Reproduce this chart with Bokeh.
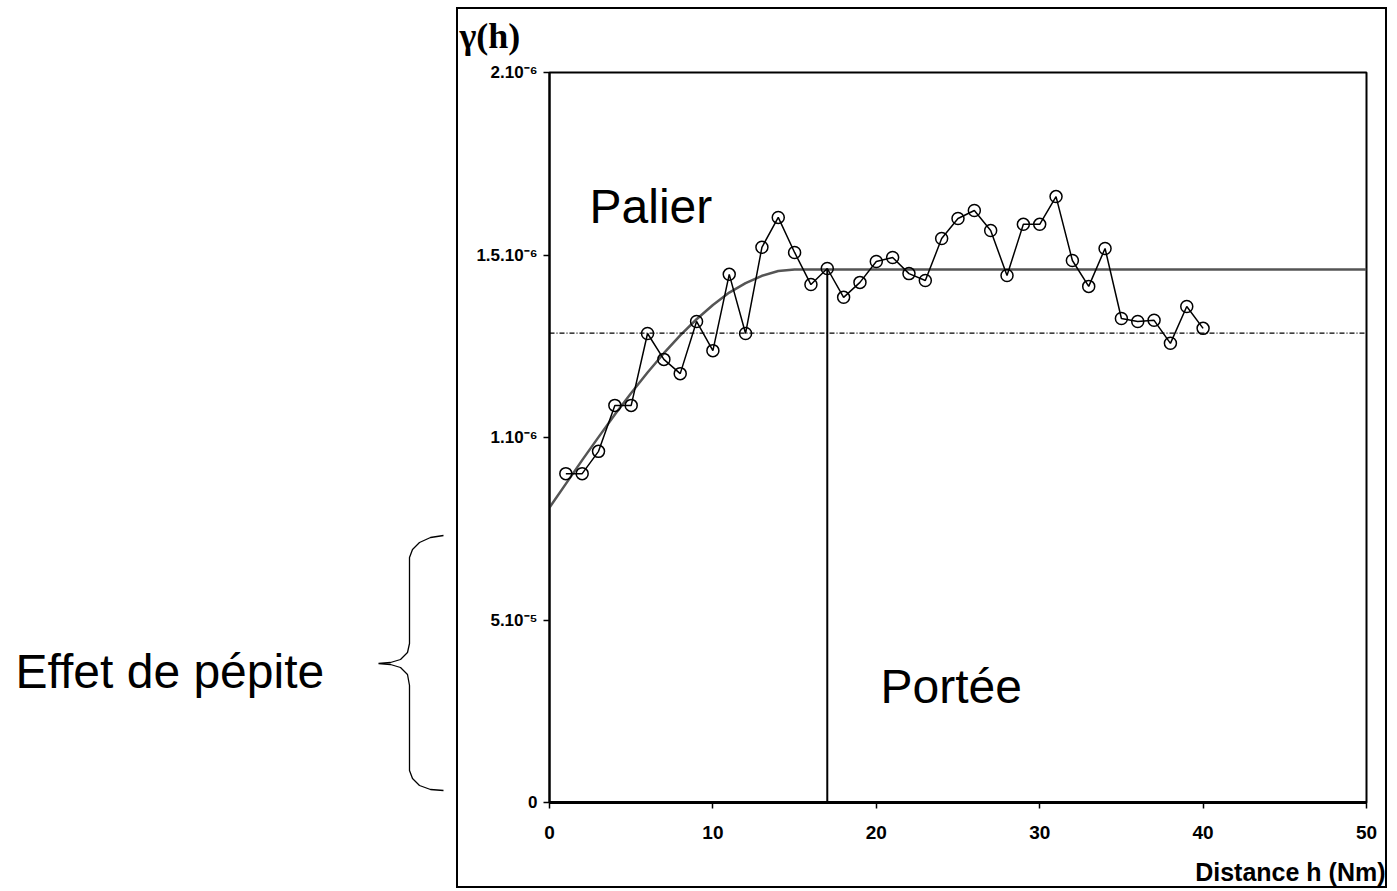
from bokeh.plotting import figure
from bokeh.layouts import row, column
from bokeh.models import Range1d, FixedTicker, Span
from bokeh.core.properties import value
from bokeh.embed import file_html
from bokeh.resources import INLINE

# ---- data (gamma in units of 1e-6) ----
h = list(range(1, 41))
gamma = [0.901, 0.901, 0.962, 1.088, 1.088, 1.285, 1.214, 1.175, 1.318, 1.238,
         1.447, 1.285, 1.521, 1.603, 1.507, 1.419, 1.463, 1.384, 1.425, 1.482,
         1.493, 1.449, 1.430, 1.545, 1.600, 1.622, 1.567, 1.444, 1.584, 1.584,
         1.660, 1.485, 1.414, 1.518, 1.326, 1.318, 1.321, 1.258, 1.359, 1.299]
model_h = [0, 1, 2, 3, 4, 5, 6, 7, 8, 9, 10, 11, 12, 13, 14, 15, 50]
model_gamma = [0.808, 0.873, 0.938, 1.001, 1.063, 1.122, 1.178, 1.231, 1.280,
               1.324, 1.363, 1.397, 1.423, 1.443, 1.456, 1.460, 1.460]
variance = 1.286
portee = 17
palier = 1.460
x_ticks = [0, 10, 20, 30, 40, 50]
y_ticks = [0, 0.5, 1, 1.5, 2]
y_tick_labels = ["0", "5.10\u207b\u2075", "1.10\u207b\u2076", "1.5.10\u207b\u2076", "2.10\u207b\u2076"]

FONT = "Liberation Sans"
BASE_SHIFT = 0.354  # empirical baseline correction of the svg text glyph (in em)

# page-pixel helpers for decorations (frame: x 549..1366, y 72..802)
def fx(px):
    return (px - 549) / 16.34

def fy(py):
    return (802 - py) / 365.0

def strip(width, height, x0, x1, y_top, y_bottom):
    s = figure(width=width, height=height, x_range=Range1d(x0, x1),
               y_range=Range1d(y_bottom, y_top),
               output_backend="svg", toolbar_location=None,
               x_axis_location=None, y_axis_location=None, frame_align=False,
               min_border_left=0, min_border_right=0, min_border_top=0, min_border_bottom=0)
    s.grid.visible = False
    s.outline_line_color = None
    s.background_fill_color = "white"
    s.border_fill_color = "white"
    return s

TOTAL_H = 888

# ---------------- left panel: nugget effect annotation ----------------
left = figure(width=456, height=TOTAL_H, x_range=Range1d(0, 456), y_range=Range1d(0, 2),
              output_backend="svg", toolbar_location=None, frame_align=False,
              x_axis_location=None, y_axis_location=None,
              min_border_left=0, min_border_right=0,
              min_border_top=72, min_border_bottom=TOTAL_H - 802)
left.grid.visible = False
left.outline_line_color = None
left.background_fill_color = "white"
left.border_fill_color = "white"

left.text(x=[15], y=[fy(688 - BASE_SHIFT * 48)], text=["Effet de pépite"], text_font=value(FONT),
          text_font_size="48px", text_baseline="alphabetic", text_color="black")

brace_px = [(443, 535), (430, 537), (419, 542), (412, 549), (409, 557),
            (409, 643), (407, 652), (400, 659), (390, 662), (378, 663),
            (390, 664), (400, 667), (407, 674), (409, 685),
            (409, 770), (412, 778), (419, 785), (430, 789), (443, 790)]
left.line([a for a, b in brace_px], [fy(b) for a, b in brace_px],
          line_color="black", line_width=1.3)

# ---------------- caption strips (page pixel coordinates) ----------------
top_strip = strip(927, 51, 458, 1385, 9, 60)
top_strip.text(x=[459], y=[48 - BASE_SHIFT * 36], text=["\u03b3(h)"],
               text_font=value("Liberation Serif"),
               text_font_style="bold", text_font_size="36px",
               text_baseline="alphabetic", text_color="black")

bottom_strip = strip(927, 28, 458, 1385, 858, 886)
bottom_strip.text(x=[1385], y=[880 - BASE_SHIFT * 25], text=["Distance h (Nm)"],
                  text_font=value(FONT),
                  text_font_style="bold", text_font_size="25px", text_align="right",
                  text_baseline="alphabetic", text_color="black")

# ---------------- main variogram ----------------
p = figure(width=927, height=858 - 60, x_range=Range1d(0, 50), y_range=Range1d(0, 2),
           output_backend="svg", toolbar_location=None, frame_align=False,
           min_border_left=549 - 458, min_border_top=72 - 60,
           min_border_right=1385 - 1366, min_border_bottom=858 - 802)
p.background_fill_color = "white"
p.border_fill_color = "white"
p.grid.visible = False
p.outline_line_color = "black"
p.outline_line_width = 2

p.xaxis.ticker = FixedTicker(ticks=x_ticks)
p.yaxis.ticker = FixedTicker(ticks=y_ticks)
p.yaxis.major_label_overrides = {t: s for t, s in zip(y_ticks, y_tick_labels)}
for ax in (p.xaxis, p.yaxis):
    ax.minor_tick_line_color = None
    ax.major_tick_out = 6
    ax.major_tick_in = 0
    ax.major_tick_line_color = "black"
    ax.major_tick_line_width = 1.5
    ax.axis_line_color = "black"
    ax.major_label_text_font = FONT
    ax.major_label_text_font_style = "bold"
    ax.major_label_text_color = "black"
p.xaxis.axis_line_width = 3
p.yaxis.axis_line_width = 2
p.xaxis.major_label_text_font_size = "19px"
p.yaxis.major_label_text_font_size = "17px"
p.xaxis.major_label_standoff = 17
p.yaxis.major_label_standoff = 6

# dotted variance line
p.add_layout(Span(location=variance, dimension="width", line_color="black",
                  line_width=1.3, line_dash="5 2 1 2"))
# model curve
p.line(model_h, model_gamma, line_color="#555555", line_width=2.5)
# range line
p.segment(x0=[portee], y0=[0], x1=[portee], y1=[palier], line_color="black", line_width=2)
# experimental variogram
p.line(h, gamma, line_color="black", line_width=1.5)
p.scatter(h, gamma, marker="circle", size=12, fill_alpha=0, line_color="black", line_width=1.5)

p.text(x=[fx(589)], y=[fy(223 - BASE_SHIFT * 48)], text=["Palier"], text_font=value(FONT),
       text_font_size="48px", text_baseline="alphabetic", text_color="black")
p.text(x=[fx(880)], y=[fy(703 - BASE_SHIFT * 48)], text=["Portée"], text_font=value(FONT),
       text_font_size="48px", text_baseline="alphabetic", text_color="black")

right = column(top_strip, p, bottom_strip,
               styles={"border": "2px solid black"}, margin=(7, 0, 0, 0))
layout = row(left, right)
open("out.html", "w").write(file_html(layout, INLINE))
